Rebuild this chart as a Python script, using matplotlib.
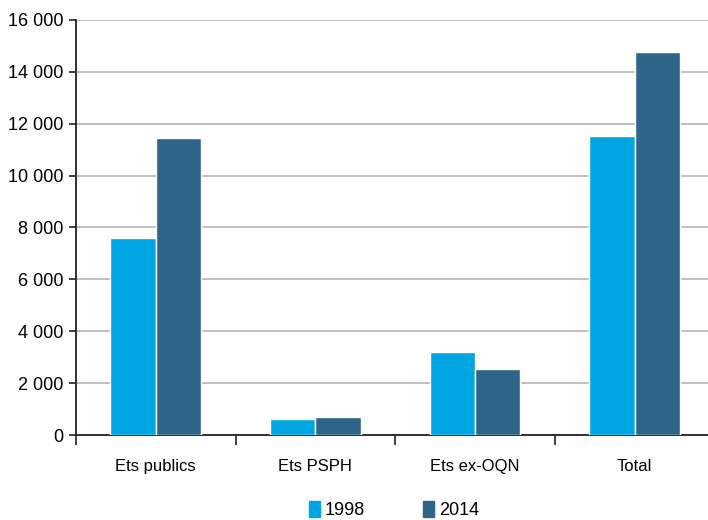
import numpy as np
import matplotlib
matplotlib.use("Agg")
import matplotlib.pyplot as plt
from matplotlib.ticker import FuncFormatter, FixedLocator
from matplotlib.patches import Patch

# data
categories = ["Ets publics", "Ets PSPH", "Ets ex-OQN", "Total"]
years = ["1998", "2014"]
values_1998 = [7600, 620, 3200, 11520]
values_2014 = [11450, 690, 2560, 14780]
colors = ["#00a6e1", "#2e6589"]

plt.rcParams["font.family"] = ["Liberation Sans", "DejaVu Sans"]

fig = plt.figure(figsize=(7.08, 5.2), dpi=100)
ax = fig.add_axes([76 / 708, 85 / 520, 632 / 708, 415 / 520])

x = np.arange(len(categories))
w = 0.285
ax.bar(x - w / 2, values_1998, w, color=colors[0], edgecolor="white",
       linewidth=1.0, zorder=3)
ax.bar(x + w / 2, values_2014, w, color=colors[1], edgecolor="white",
       linewidth=1.0, zorder=3)

ax.set_ylim(0, 16000)
ax.set_xlim(-0.5, 3.46)
ax.set_yticks(np.arange(0, 16001, 2000))
ax.yaxis.set_major_formatter(
    FuncFormatter(lambda v, p: f"{int(v):,}".replace(",", " ")))
ax.yaxis.grid(True, color="#c0c0c0", linewidth=1.4, zorder=0)
ax.set_axisbelow(True)

ax.set_xticks(x)
ax.set_xticklabels(categories, fontsize=12)
ax.tick_params(axis="x", which="major", length=0, pad=17)
ax.xaxis.set_minor_locator(FixedLocator(np.arange(-0.5, 3.6, 1.0)))
ax.tick_params(axis="x", which="minor", length=7, width=1.2,
               direction="out", color="#222222")
ax.tick_params(axis="y", length=5, width=1.2, pad=4, labelsize=13,
               color="#222222")

for s in ["top", "right"]:
    ax.spines[s].set_visible(False)
ax.spines["left"].set_color("#222222")
ax.spines["left"].set_linewidth(1.3)
ax.spines["bottom"].set_color("#222222")
ax.spines["bottom"].set_linewidth(1.3)

handles = [Patch(color=c) for c in colors]
fig.legend(handles, years, loc="center", bbox_to_anchor=(394 / 708, 10 / 520),
           ncol=2, frameon=False, fontsize=13, handlelength=0.6,
           handleheight=1.0, handletextpad=0.3, columnspacing=3.2,
           borderpad=0.1)

fig.savefig("out.png", dpi=100)
